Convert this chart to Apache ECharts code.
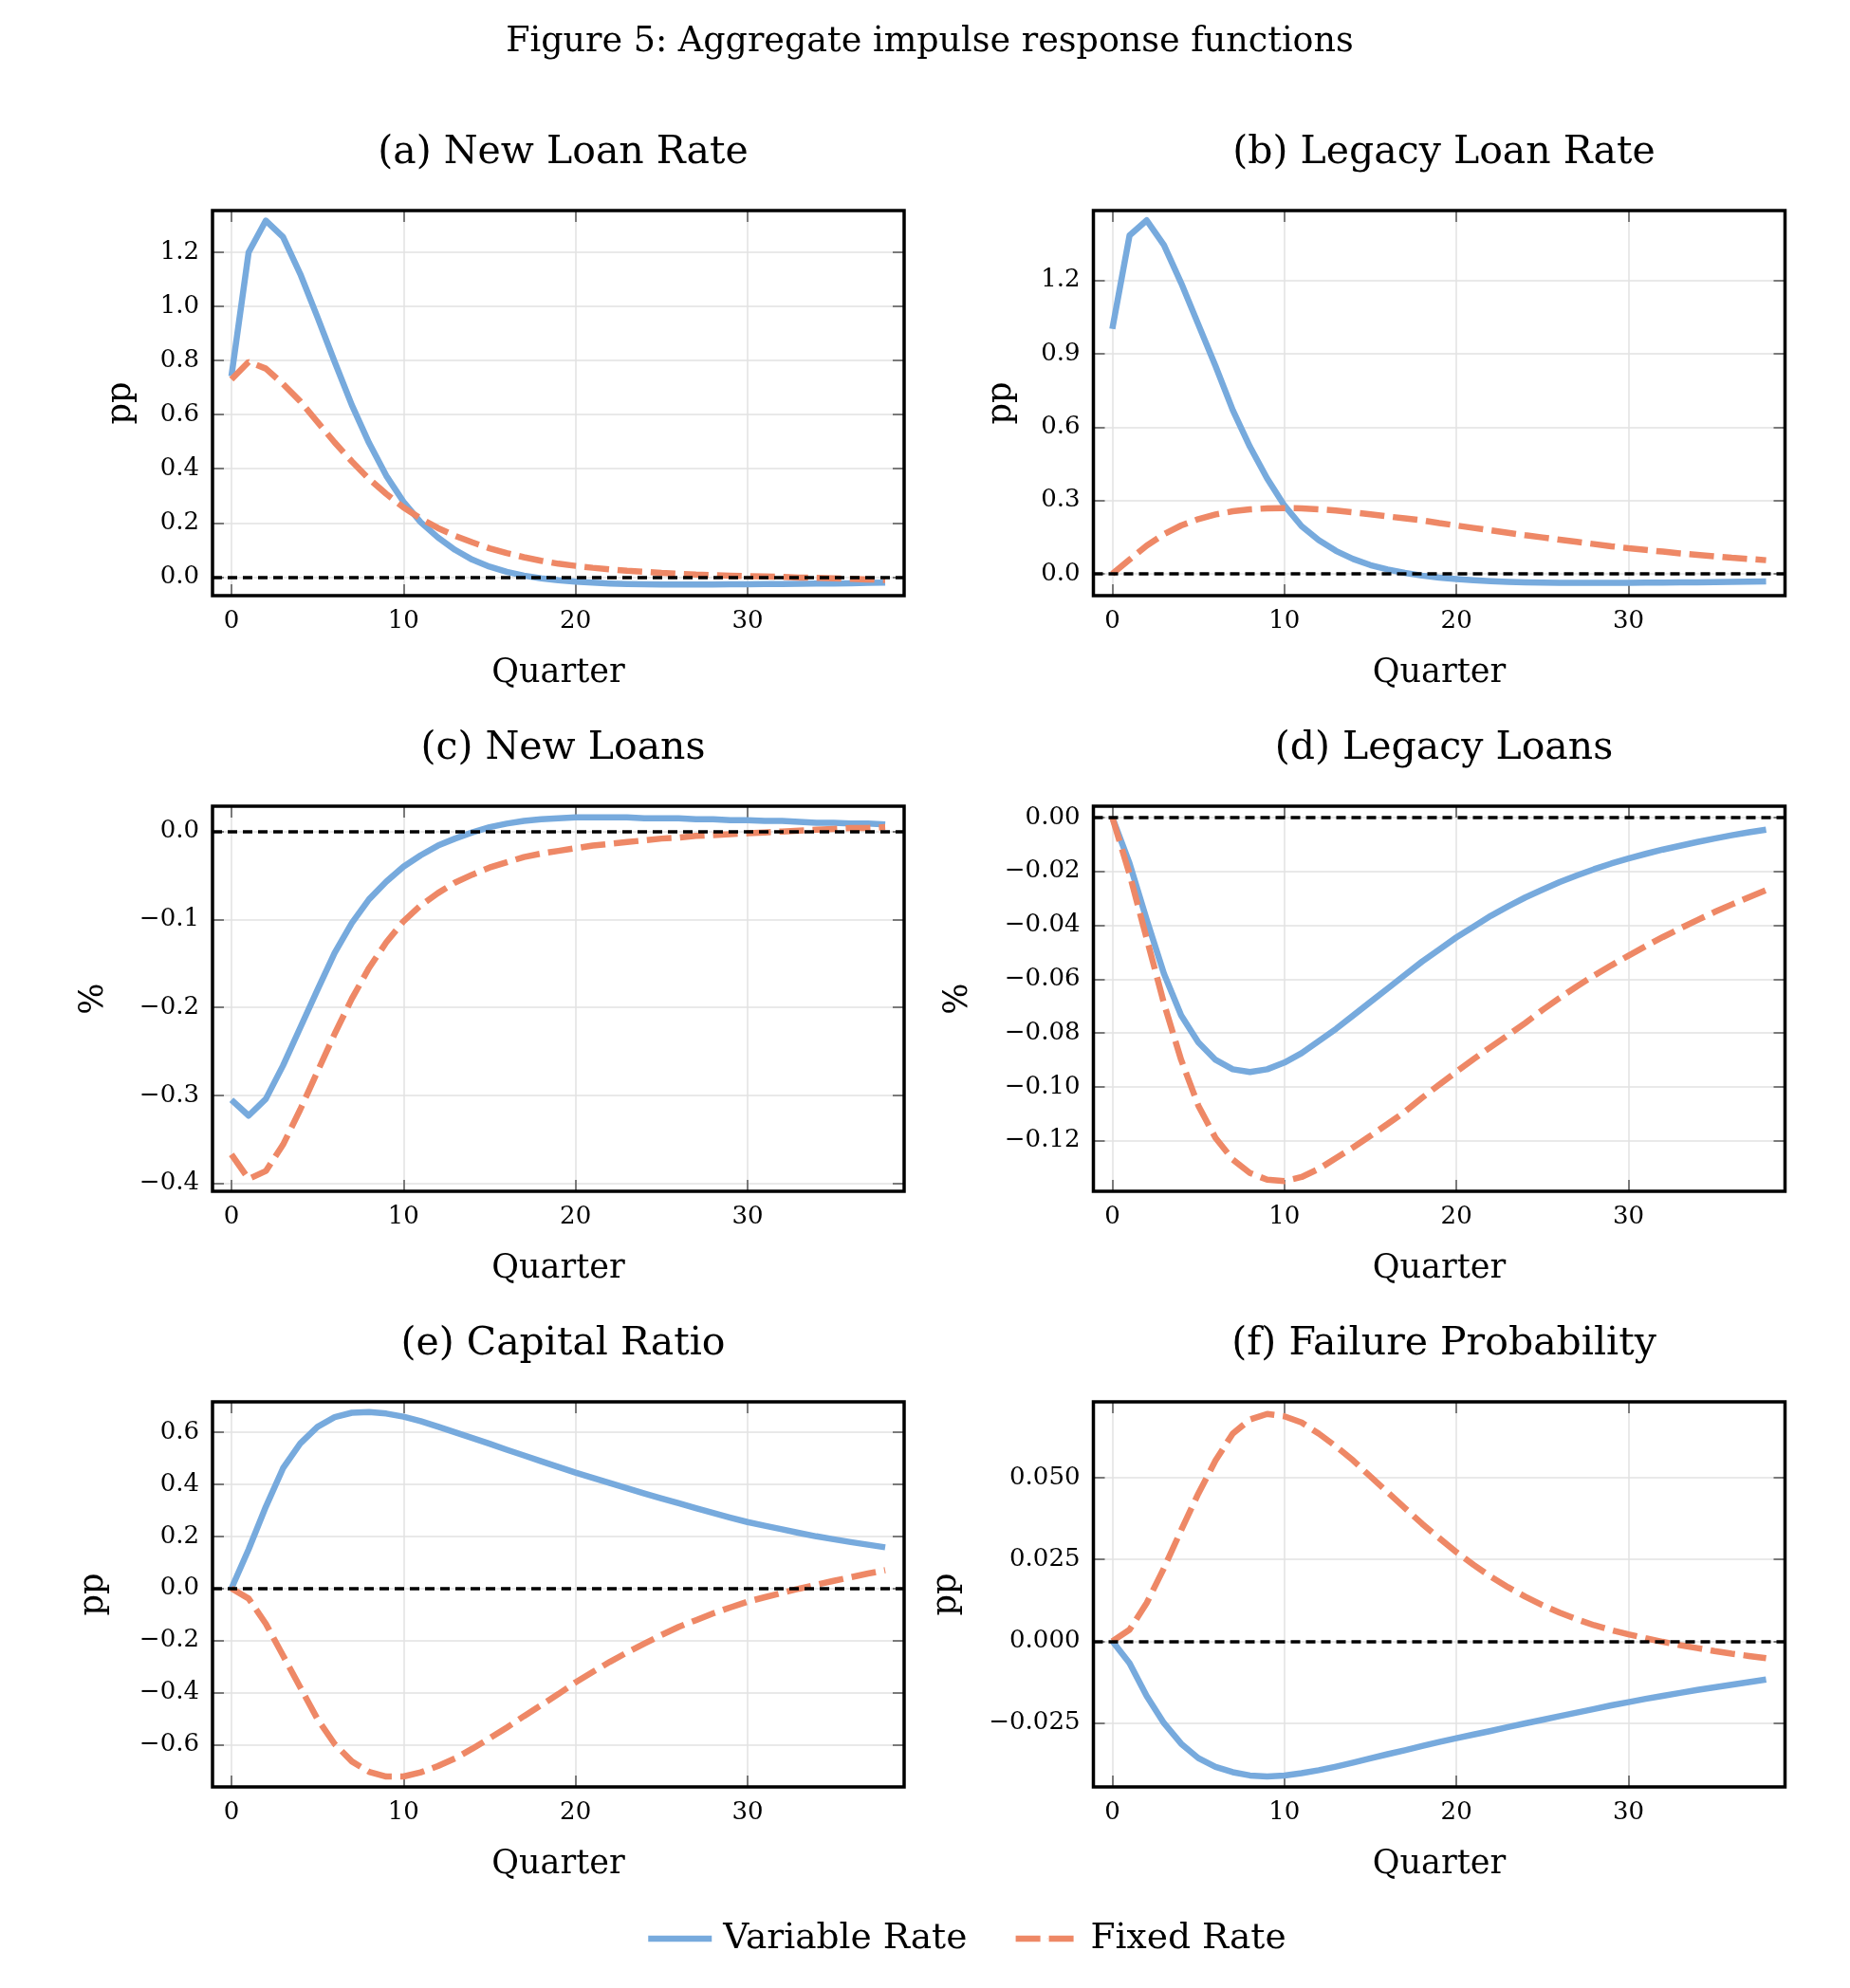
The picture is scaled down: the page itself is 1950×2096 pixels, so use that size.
<!DOCTYPE html>
<html lang="en">

<head>
    <meta charset="UTF-8">
    <title>Figure 5: Aggregate impulse response functions</title>
    <style>
        * {
            padding: 0;
            margin: 0;
            box-sizing: border-box;
        }

        html,
        body {
            width: 1950px;
            height: 2096px;
            overflow: hidden;
            background: #fff;
        }

        #box {
            width: 1950px;
            height: 2096px;
        }
    </style>
</head>

<body>
    <div id="box"></div>
</body>
<script src="https://cdn.jsdelivr.net/npm/echarts@6/dist/echarts.min.js"></script>
<script>
    // quarters after the shock
    var quarters = [0, 1, 2, 3, 4, 5, 6, 7, 8, 9, 10, 11, 12, 13, 14, 15, 16, 17, 18, 19,
        20, 21, 22, 23, 24, 25, 26, 27, 28, 29, 30, 31, 32, 33, 34, 35, 36, 37, 38];

    // (a) New Loan Rate, pp
    var newLoanRateVariable = [0.742, 1.20, 1.317, 1.256, 1.12, 0.96, 0.795, 0.635, 0.495, 0.374,
        0.278, 0.202, 0.146, 0.100, 0.064, 0.038, 0.019, 0.005, -0.005, -0.012,
        -0.017, -0.021, -0.024, -0.026, -0.027, -0.028, -0.028, -0.028, -0.028, -0.027,
        -0.027, -0.026, -0.026, -0.025, -0.024, -0.024, -0.023, -0.022, -0.021];
    var newLoanRateFixed = [0.73, 0.795, 0.77, 0.713, 0.649, 0.573, 0.497, 0.427, 0.362, 0.307,
        0.257, 0.216, 0.181, 0.152, 0.128, 0.106, 0.088, 0.073, 0.060, 0.049,
        0.041, 0.034, 0.028, 0.023, 0.019, 0.015, 0.012, 0.009, 0.007, 0.005,
        0.003, 0.002, 0.000, -0.002, -0.003, -0.005, -0.007, -0.009, -0.011];

    // (b) Legacy Loan Rate, pp
    var legacyLoanRateVariable = [1.002, 1.384, 1.446, 1.345, 1.19, 1.02, 0.85, 0.67, 0.52, 0.39,
        0.28, 0.195, 0.138, 0.094, 0.061, 0.036, 0.018, 0.004, -0.007, -0.015,
        -0.021, -0.026, -0.030, -0.033, -0.035, -0.036, -0.037, -0.037, -0.037, -0.037,
        -0.037, -0.036, -0.036, -0.035, -0.035, -0.034, -0.033, -0.032, -0.031];
    var legacyLoanRateFixed = [0, 0.058, 0.116, 0.162, 0.198, 0.224, 0.243, 0.256, 0.264, 0.268,
        0.269, 0.268, 0.264, 0.259, 0.252, 0.244, 0.235, 0.227, 0.219, 0.208,
        0.198, 0.188, 0.178, 0.168, 0.158, 0.149, 0.140, 0.131, 0.122, 0.113,
        0.105, 0.098, 0.091, 0.084, 0.078, 0.072, 0.066, 0.061, 0.056];

    // (c) New Loans, %
    var newLoansVariable = [-0.305, -0.323, -0.304, -0.266, -0.223, -0.180, -0.138, -0.104, -0.077, -0.057,
        -0.040, -0.027, -0.016, -0.008, -0.001, 0.005, 0.009, 0.012, 0.014, 0.015,
        0.016, 0.016, 0.016, 0.016, 0.015, 0.015, 0.015, 0.014, 0.014, 0.013,
        0.013, 0.012, 0.012, 0.011, 0.010, 0.010, 0.009, 0.009, 0.008];
    var newLoansFixed = [-0.367, -0.395, -0.386, -0.356, -0.316, -0.273, -0.230, -0.190, -0.155, -0.126,
        -0.102, -0.084, -0.070, -0.058, -0.049, -0.041, -0.035, -0.029, -0.025, -0.022,
        -0.019, -0.016, -0.014, -0.012, -0.010, -0.008, -0.007, -0.005, -0.004, -0.003,
        -0.002, -0.001, 0.000, 0.001, 0.002, 0.003, 0.004, 0.004, 0.005];

    // (d) Legacy Loans, %
    var legacyLoansVariable = [0, -0.017, -0.038, -0.058, -0.0735, -0.0835, -0.0900, -0.0935, -0.0945, -0.0935,
        -0.0910, -0.0875, -0.0830, -0.0785, -0.0735, -0.0685, -0.0635, -0.0585, -0.0535, -0.0490,
        -0.0445, -0.0405, -0.0365, -0.0330, -0.0297, -0.0268, -0.0240, -0.0215, -0.0192, -0.0171,
        -0.0152, -0.0135, -0.0119, -0.0105, -0.0091, -0.0078, -0.0066, -0.0055, -0.0045];
    var legacyLoansFixed = [0, -0.021, -0.045, -0.069, -0.090, -0.107, -0.119, -0.127, -0.132, -0.1345,
        -0.135, -0.1335, -0.1305, -0.1265, -0.1225, -0.1182, -0.1138, -0.1093, -0.1041, -0.0992,
        -0.0944, -0.0897, -0.0852, -0.0808, -0.0763, -0.0715, -0.0670, -0.0627, -0.0587, -0.0549,
        -0.0513, -0.0478, -0.0444, -0.0412, -0.0381, -0.0351, -0.0323, -0.0296, -0.0270];

    // (e) Capital Ratio, pp
    var capitalRatioVariable = [0, 0.150, 0.314, 0.462, 0.557, 0.621, 0.658, 0.675, 0.678, 0.672,
        0.660, 0.643, 0.622, 0.600, 0.578, 0.556, 0.533, 0.511, 0.489, 0.467,
        0.445, 0.425, 0.405, 0.385, 0.365, 0.346, 0.327, 0.308, 0.290, 0.272,
        0.255, 0.241, 0.227, 0.213, 0.200, 0.189, 0.178, 0.168, 0.158];
    var capitalRatioFixed = [0, -0.039, -0.136, -0.258, -0.380, -0.502, -0.598, -0.665, -0.705, -0.723,
        -0.723, -0.707, -0.683, -0.653, -0.616, -0.576, -0.535, -0.491, -0.449, -0.406,
        -0.361, -0.321, -0.282, -0.246, -0.212, -0.179, -0.148, -0.122, -0.096, -0.073,
        -0.051, -0.034, -0.017, -0.001, 0.014, 0.029, 0.043, 0.057, 0.070];

    // (f) Failure Probability, pp
    var failureProbVariable = [0, -0.0067, -0.0168, -0.0250, -0.0313, -0.0357, -0.0384, -0.0400, -0.0410, -0.0413,
        -0.0410, -0.0403, -0.0394, -0.0383, -0.0371, -0.0358, -0.0345, -0.0333, -0.0320, -0.0308,
        -0.0296, -0.0285, -0.0274, -0.0262, -0.0251, -0.0240, -0.0229, -0.0218, -0.0207, -0.0196,
        -0.0186, -0.0176, -0.0167, -0.0158, -0.0149, -0.0141, -0.0133, -0.0125, -0.0117];
    var failureProbFixed = [0, 0.0035, 0.0117, 0.0223, 0.0339, 0.0451, 0.0552, 0.0634, 0.0677, 0.0694,
        0.0687, 0.0668, 0.0634, 0.0595, 0.0552, 0.0503, 0.0455, 0.0407, 0.0359, 0.0315,
        0.0272, 0.0233, 0.0197, 0.0165, 0.0136, 0.0110, 0.0087, 0.0067, 0.0049, 0.0034,
        0.0021, 0.0009, -0.0002, -0.0012, -0.0021, -0.0030, -0.0038, -0.0045, -0.0052];

    var panels = [
        { title: '(a) New Loan Rate', unit: 'pp', variable: newLoanRateVariable, fixed: newLoanRateFixed, yMin: -0.069, yMax: 1.354, step: 0.2, decimals: 1, nameGap: 79 },
        { title: '(b) Legacy Loan Rate', unit: 'pp', variable: legacyLoanRateVariable, fixed: legacyLoanRateFixed, yMin: -0.089, yMax: 1.486, step: 0.3, decimals: 1, nameGap: 79 },
        { title: '(c) New Loans', unit: '%', variable: newLoansVariable, fixed: newLoansFixed, yMin: -0.409, yMax: 0.0288, step: 0.1, decimals: 1, nameGap: 108 },
        { title: '(d) Legacy Loans', unit: '%', variable: legacyLoansVariable, fixed: legacyLoansFixed, yMin: -0.1388, yMax: 0.0042, step: 0.02, decimals: 2, nameGap: 125 },
        { title: '(e) Capital Ratio', unit: 'pp', variable: capitalRatioVariable, fixed: capitalRatioFixed, yMin: -0.763, yMax: 0.717, step: 0.2, decimals: 1, nameGap: 108 },
        { title: '(f) Failure Probability', unit: 'pp', variable: failureProbVariable, fixed: failureProbFixed, yMin: -0.0445, yMax: 0.0731, step: 0.025, decimals: 3, nameGap: 137 }
    ];

    var colLeft = [224, 1152.5];
    var rowTop = [222, 850, 1478];
    var plotW = 729, plotH = 406;
    var xMin = -1.1, xMax = 39.1;
    var FONT = 'DejaVu Serif';
    var BLUE = '#77AADD', ORANGE = '#EE8866';

    function tickFormatter(step, decimals) {
        return function (v) {
            var k = v / step;
            if (Math.abs(k - Math.round(k)) > 1e-6) return '';
            var s = Math.abs(v).toFixed(decimals);
            return (v < -1e-9 ? '\u2212' : '') + s;
        };
    }

    var tickStyle = { show: true, inside: true, length: 12, lineStyle: { color: '#555', width: 1.5 } };
    var gridLine = { show: true, lineStyle: { color: '#e2e2e2', width: 1.5 } };
    var noLine = { show: false, onZero: false };

    var titles = [{
        text: 'Figure 5: Aggregate impulse response functions',
        left: 975, top: 21, textAlign: 'center',
        textStyle: { fontFamily: FONT, fontWeight: 'normal', fontSize: 36.5, color: '#000' }
    }];
    var grids = [], xAxes = [], yAxes = [], series = [];

    panels.forEach(function (p, i) {
        var left = colLeft[i % 2], top = rowTop[Math.floor(i / 2)];
        titles.push({
            text: p.title, left: left + plotW / 2, top: top - 86, textAlign: 'center',
            textStyle: { fontFamily: FONT, fontWeight: 'normal', fontSize: 41, color: '#000' }
        });
        grids.push({
            left: left, top: top, width: plotW, height: plotH,
            show: true, borderColor: '#000', borderWidth: 3.5, backgroundColor: 'transparent', z: 10
        });
        var xBase = {
            type: 'value', gridIndex: i, min: xMin, max: xMax, minInterval: 10, maxInterval: 10,
            axisLine: noLine, axisTick: tickStyle
        };
        xAxes.push(Object.assign({}, xBase, {
            position: 'bottom',
            name: 'Quarter', nameLocation: 'middle', nameGap: 64,
            nameTextStyle: { fontFamily: FONT, fontSize: 35, color: '#000' },
            splitLine: gridLine,
            axisLabel: {
                margin: 14, fontFamily: FONT, fontSize: 26, color: '#000',
                showMinLabel: false, showMaxLabel: false,
                formatter: tickFormatter(10, 0)
            }
        }));
        xAxes.push(Object.assign({}, xBase, {
            position: 'top', splitLine: { show: false }, axisLabel: { show: false }
        }));
        var yBase = {
            type: 'value', gridIndex: i, min: p.yMin, max: p.yMax,
            minInterval: p.step, maxInterval: p.step,
            axisLine: noLine, axisTick: tickStyle
        };
        yAxes.push(Object.assign({}, yBase, {
            position: 'left',
            name: p.unit, nameLocation: 'middle', nameGap: p.nameGap,
            nameTextStyle: { fontFamily: FONT, fontSize: 35, color: '#000' },
            splitLine: gridLine,
            axisLabel: {
                margin: 14, fontFamily: FONT, fontSize: 26, color: '#000',
                showMinLabel: false, showMaxLabel: false,
                formatter: tickFormatter(p.step, p.decimals)
            }
        }));
        yAxes.push(Object.assign({}, yBase, {
            position: 'right', splitLine: { show: false }, axisLabel: { show: false }
        }));

        series.push({
            name: 'Variable Rate', type: 'line', xAxisIndex: 2 * i, yAxisIndex: 2 * i,
            data: quarters.map(function (q, j) { return [q, p.variable[j]]; }),
            symbol: 'none', lineStyle: { color: BLUE, width: 6.5, join: 'round' }, itemStyle: { color: BLUE },
            z: 3
        });
        series.push({
            name: 'Fixed Rate', type: 'line', xAxisIndex: 2 * i, yAxisIndex: 2 * i,
            data: quarters.map(function (q, j) { return [q, p.fixed[j]]; }),
            symbol: 'none', lineStyle: { color: ORANGE, width: 6.5, type: [26, 9] }, itemStyle: { color: ORANGE },
            z: 3,
            markLine: {
                silent: true, symbol: ['none', 'none'], label: { show: false },
                lineStyle: { color: '#000', width: 3.5, type: [10, 6] },
                data: [{ yAxis: 0 }]
            }
        });
    });

    var box = echarts.init(document.getElementById('box'), null, { renderer: 'canvas' });
    var option = {
        animation: false,
        backgroundColor: '#fff',
        title: titles,
        legend: {
            data: ['Variable Rate', 'Fixed Rate'],
            left: 675, top: 2020,
            itemWidth: 67, itemHeight: 1, itemGap: 48,
            lineStyle: { width: 6.5 },
            textStyle: { fontFamily: FONT, fontSize: 37.5, color: '#000', padding: [0, 0, 0, 7] }
        },
        grid: grids,
        xAxis: xAxes,
        yAxis: yAxes,
        series: series
    };
    box.setOption(option);
</script>

</html>
